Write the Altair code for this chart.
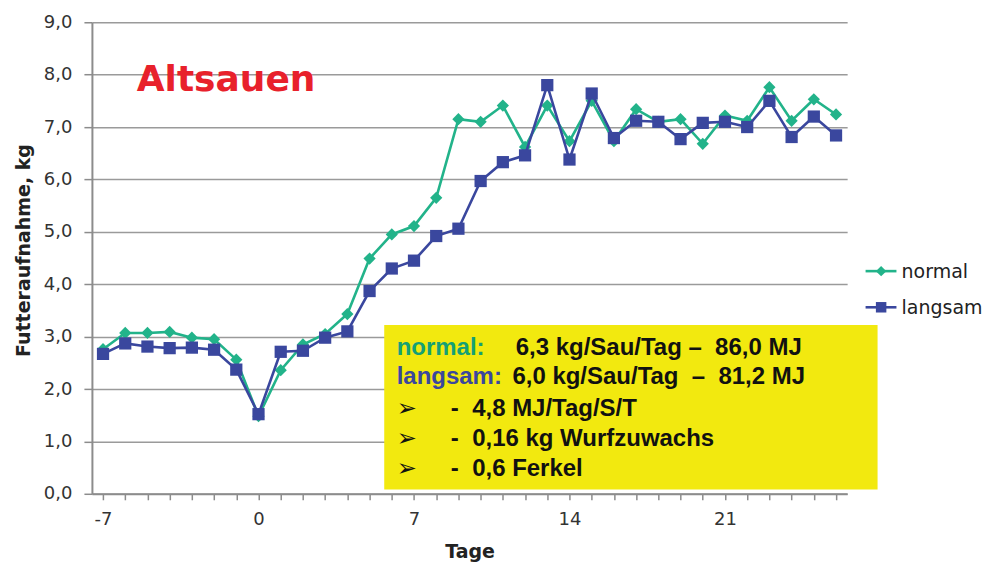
import altair as alt
import pandas as pd

# ---- data ----
tage = list(range(-7, 27))
normal = [2.76, 3.07, 3.07, 3.09, 2.98, 2.95, 2.56, 1.48, 2.36, 2.85, 3.05, 3.43,
          4.49, 4.95, 5.11, 5.65, 7.15, 7.10, 7.41, 6.62, 7.41, 6.73, 7.50, 6.73,
          7.34, 7.10, 7.15, 6.68, 7.22, 7.12, 7.76, 7.12, 7.53, 7.24]
langsam = [2.67, 2.87, 2.81, 2.78, 2.79, 2.75, 2.37, 1.52, 2.71, 2.73, 2.98, 3.10,
           3.87, 4.30, 4.45, 4.92, 5.06, 5.97, 6.33, 6.46, 7.80, 6.38, 7.64, 6.79,
           7.12, 7.10, 6.77, 7.08, 7.10, 7.00, 7.50, 6.81, 7.20, 6.84]
serien = ["normal", "langsam"]
farben = ["#22b38a", "#3a479e"]
formen = ["diamond", "square"]
y_ticks = [0, 1, 2, 3, 4, 5, 6, 7, 8, 9]

titel_text = "Altsauen"
box_zeilen_links = ["normal:", "langsam:", "\u27a2", "\u27a2", "\u27a2"]
box_zeilen_rechts = [
    "6,3 kg/Sau/Tag \u2013\u00a0 86,0 MJ",
    "6,0 kg/Sau/Tag\u00a0 \u2013\u00a0 81,2 MJ",
    "-\u00a0 4,8 MJ/Tag/S/T",
    "-\u00a0 0,16 kg Wurfzuwachs",
    "-\u00a0 0,6 Ferkel",
]

# annotation / legend anchor positions (in data units)
box_x = [5.66, 27.87]
box_y = [0.08, 3.22]
zeilen_y = [2.65, 2.10, 1.49, 0.915, 0.345]
links_x = 6.22
rechts_x = [11.58, 11.43, 8.66, 8.66, 8.66]
titel_pos = (-5.48, 7.68)
legende_y = [4.25, 3.56]
legende_linie_x = [27.33, 28.72]
legende_marker_x = 28.03
legende_text_x = 28.95

df = pd.DataFrame({
    "Tag": tage * 2,
    "Wert": normal + langsam,
    "Serie": ["normal"] * len(tage) + ["langsam"] * len(tage),
})

color_scale = alt.Scale(domain=serien, range=farben)
shape_scale = alt.Scale(domain=serien, range=formen)

x_enc = alt.X(
    "Tag:Q",
    scale=alt.Scale(domain=[-7.5, 26.5], nice=False, zero=False),
    axis=alt.Axis(
        title="Tage", values=tage, tickCount=len(tage) + 2, grid=False,
        labelOverlap=False,
        labelExpr="datum.value % 7 == 0 ? '' + datum.value : ''",
        tickSize=6, labelPadding=11, titlePadding=14,
        labelFontSize=18, titleFontSize=19, titleFontWeight="bold",
    ),
)
y_enc = alt.Y(
    "Wert:Q",
    scale=alt.Scale(domain=[0, 9], nice=False, zero=True),
    axis=alt.Axis(
        title="Futteraufnahme, kg", values=y_ticks, tickCount=12,
        labelExpr="replace(format(datum.value, '.1f'), '.', ',')",
        tickSize=8, labelPadding=12, titlePadding=10, titleY=228,
        labelFontSize=18, titleFontSize=19, titleFontWeight="bold",
    ),
)

base = alt.Chart(df).encode(x=x_enc, y=y_enc)
col = alt.Color("Serie:N", scale=color_scale, legend=None)
shp = alt.Shape("Serie:N", scale=shape_scale, legend=None)

layers = []
for s in serien:
    sub = base.transform_filter(alt.datum.Serie == s)
    layers.append(sub.mark_line(strokeWidth=2.6).encode(color=col))
    layers.append(sub.mark_point(filled=True, opacity=1, size=150).encode(color=col, shape=shp))

# yellow info box
box_df = pd.DataFrame({"Tag": [box_x[0]], "Tag2": [box_x[1]],
                       "Wert": [box_y[0]], "Wert2": [box_y[1]]})
box = alt.Chart(box_df).mark_rect(color="#f2e90f").encode(
    x="Tag:Q", x2="Tag2:Q", y="Wert:Q", y2="Wert2:Q")

links_df = pd.DataFrame({
    "Tag": [links_x] * 5, "Wert": zeilen_y, "Text": box_zeilen_links,
    "Art": ["normal", "langsam", "pfeil", "pfeil", "pfeil"],
})
lab_normal = alt.Chart(links_df).transform_filter(alt.datum.Art == "normal").mark_text(
    align="left", baseline="alphabetic", font="Liberation Sans", fontWeight="bold",
    fontSize=24, color="#15a075").encode(x="Tag:Q", y="Wert:Q", text="Text:N")
lab_langsam = alt.Chart(links_df).transform_filter(alt.datum.Art == "langsam").mark_text(
    align="left", baseline="alphabetic", font="Liberation Sans", fontWeight="bold",
    fontSize=24, color="#3a479e").encode(x="Tag:Q", y="Wert:Q", text="Text:N")
lab_pfeil = alt.Chart(links_df).transform_filter(alt.datum.Art == "pfeil").mark_text(
    align="left", baseline="alphabetic", font="DejaVu Sans", fontWeight="bold",
    fontSize=24, color="#111").encode(x="Tag:Q", y="Wert:Q", text="Text:N")

rechts_df = pd.DataFrame({"Tag": rechts_x, "Wert": zeilen_y, "Text": box_zeilen_rechts})
lab_rechts = alt.Chart(rechts_df).mark_text(
    align="left", baseline="alphabetic", font="Liberation Sans", fontWeight="bold",
    fontSize=24, color="#111").encode(x="Tag:Q", y="Wert:Q", text="Text:N")

titel_df = pd.DataFrame({"Tag": [titel_pos[0]], "Wert": [titel_pos[1]], "Text": [titel_text]})
titel = alt.Chart(titel_df).mark_text(
    align="left", baseline="alphabetic", font="DejaVu Sans", fontWeight="bold",
    fontSize=36, color="#e8212b").encode(x="Tag:Q", y="Wert:Q", text="Text:N")

# legend (line + marker + label), to the right of the plot
leg_df = pd.DataFrame({
    "Serie": serien,
    "Wert": legende_y,
    "Tag": [legende_linie_x[0]] * 2,
    "Tag2": [legende_linie_x[1]] * 2,
    "Mx": [legende_marker_x] * 2,
    "Tx": [legende_text_x] * 2,
})
leg_line = alt.Chart(leg_df).mark_rule(strokeWidth=2.6).encode(
    x="Tag:Q", x2="Tag2:Q", y="Wert:Q", color=col)
leg_pt = alt.Chart(leg_df).mark_point(filled=True, opacity=1, size=110).encode(
    x=alt.X("Mx:Q", title="Tage"), y="Wert:Q", color=col, shape=shp)
leg_txt = alt.Chart(leg_df).mark_text(
    align="left", baseline="middle", font="DejaVu Sans", fontSize=19, color="#222", dy=1
).encode(x=alt.X("Tx:Q", title="Tage"), y="Wert:Q", text="Serie:N")

chart = alt.layer(
    *layers, box, lab_normal, lab_langsam, lab_pfeil, lab_rechts, titel,
    leg_line, leg_pt, leg_txt
).properties(
    width=756, height=472,
    autosize=alt.AutoSizeParams(type="none"),
    padding={"left": 84, "top": 14, "right": 140, "bottom": 70},
).configure_view(
    stroke=None
).configure_axis(
    domainColor="#8c8c8c", domainWidth=2, tickColor="#8c8c8c", tickWidth=1.5,
    gridColor="#9a9a9a", gridWidth=1.5, labelColor="#333", titleColor="#222",
    labelFont="DejaVu Sans", titleFont="DejaVu Sans",
)

chart.save("out.html", embed_options={"renderer": "svg", "actions": False})
